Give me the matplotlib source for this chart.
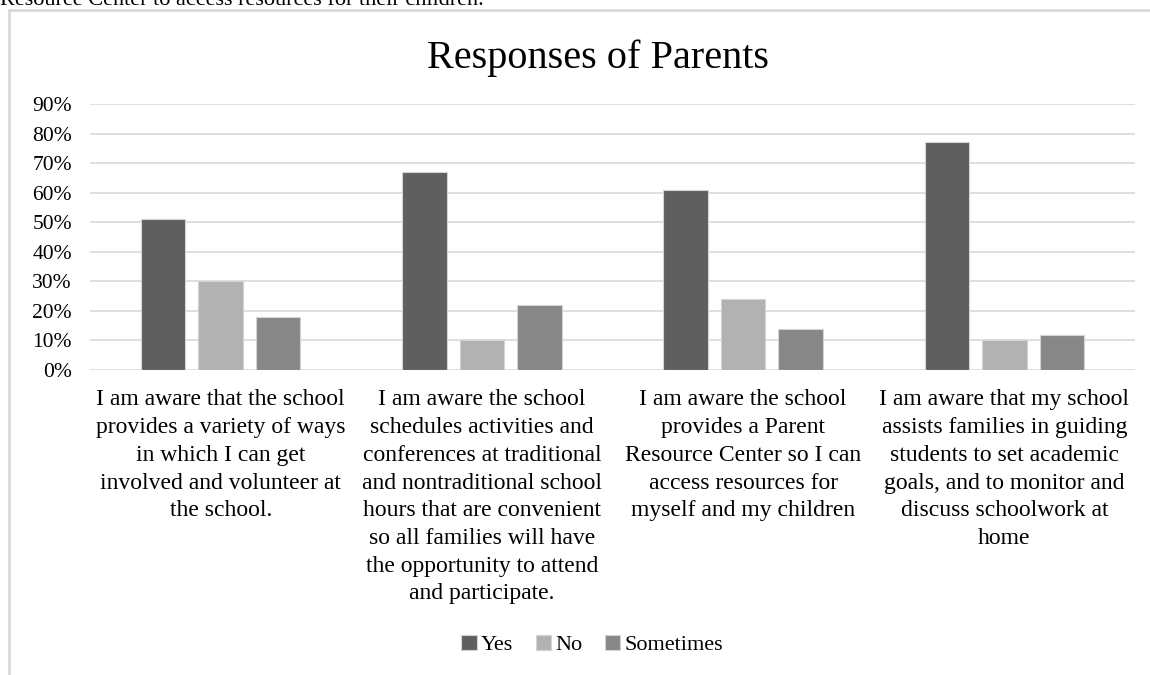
import numpy as np
import matplotlib
matplotlib.use("Agg")
from matplotlib import pyplot as plt
from matplotlib.patches import Rectangle
from matplotlib.ticker import PercentFormatter

plt.rcParams['font.family'] = ['Liberation Serif', 'DejaVu Serif']
SERIF = ['Liberation Serif', 'DejaVu Serif']

categories = [
    "I am aware that the school\nprovides a variety of ways\nin which I can get\ninvolved and volunteer at\nthe school.",
    "I am aware the school\nschedules activities and\nconferences at traditional\nand nontraditional school\nhours that are convenient\nso all families will have\nthe opportunity to attend\nand participate.",
    "I am aware the school\nprovides a Parent\nResource Center so I can\naccess resources for\nmyself and my children",
    "I am aware that my school\nassists families in guiding\nstudents to set academic\ngoals, and to monitor and\ndiscuss schoolwork at\nhome",
]
series_names = ["Yes", "No", "Sometimes"]
yes = [0.51, 0.67, 0.61, 0.77]
no = [0.30, 0.10, 0.24, 0.10]
sometimes = [0.18, 0.22, 0.14, 0.12]
colors = ["#5f5f5f", "#b2b2b2", "#878787"]

fig = plt.figure(figsize=(11.5, 6.75), dpi=100)

# surrounding text line and chart frame
fig.text(0.0, 1 - 5 / 675, "Resource Center to access resources for their children.",
         fontsize=16, va='baseline', ha='left', family=SERIF)
fig.patches.append(Rectangle((9 / 1150, -0.1), 1.2, 1 - 10 / 675 + 0.1,
                             transform=fig.transFigure, fill=False,
                             edgecolor='#d9d9d9', linewidth=2))

ax = fig.add_axes([90 / 1150, 1 - 370 / 675, (1135 - 90) / 1150, (370 - 104) / 675])

x = np.arange(len(categories))
width = 0.17
step = 0.22
for i, (vals, name) in enumerate(zip([yes, no, sometimes], series_names)):
    ax.bar(x + (i - 1) * step, vals, width, color=colors[i], label=name,
           edgecolor='#d4d4d4', linewidth=0.8, zorder=3)

ax.set_xlim(-0.5, len(categories) - 0.5)
ax.set_ylim(0, 0.9)
ax.set_yticks(np.arange(0, 0.91, 0.1))
ax.yaxis.set_major_formatter(PercentFormatter(1.0, decimals=0))
ax.grid(axis='y', color='#d9d9d9', linewidth=1.2, zorder=0)
ax.set_axisbelow(True)
for s in ax.spines.values():
    s.set_visible(False)
ax.tick_params(axis='y', length=0, labelsize=15.5, pad=13)
ax.tick_params(axis='x', length=0, pad=14)
ax.set_xticks(x)
ax.set_xticklabels(categories, linespacing=1.42, va='top', fontsize=17, family=SERIF)
for lbl in ax.get_yticklabels():
    lbl.set_family(SERIF)

fig.text(598 / 1150, 1 - 58 / 675, "Responses of Parents", fontsize=29,
         ha='center', va='center', family=SERIF)

fig.legend(loc='center', bbox_to_anchor=(0.515, 1 - 645 / 675), ncol=3,
           frameon=False, prop={'family': SERIF, 'size': 16}, handlelength=0.7,
           handleheight=0.7, handletextpad=0.2, columnspacing=1.0)

fig.savefig("out.png", dpi=100)
